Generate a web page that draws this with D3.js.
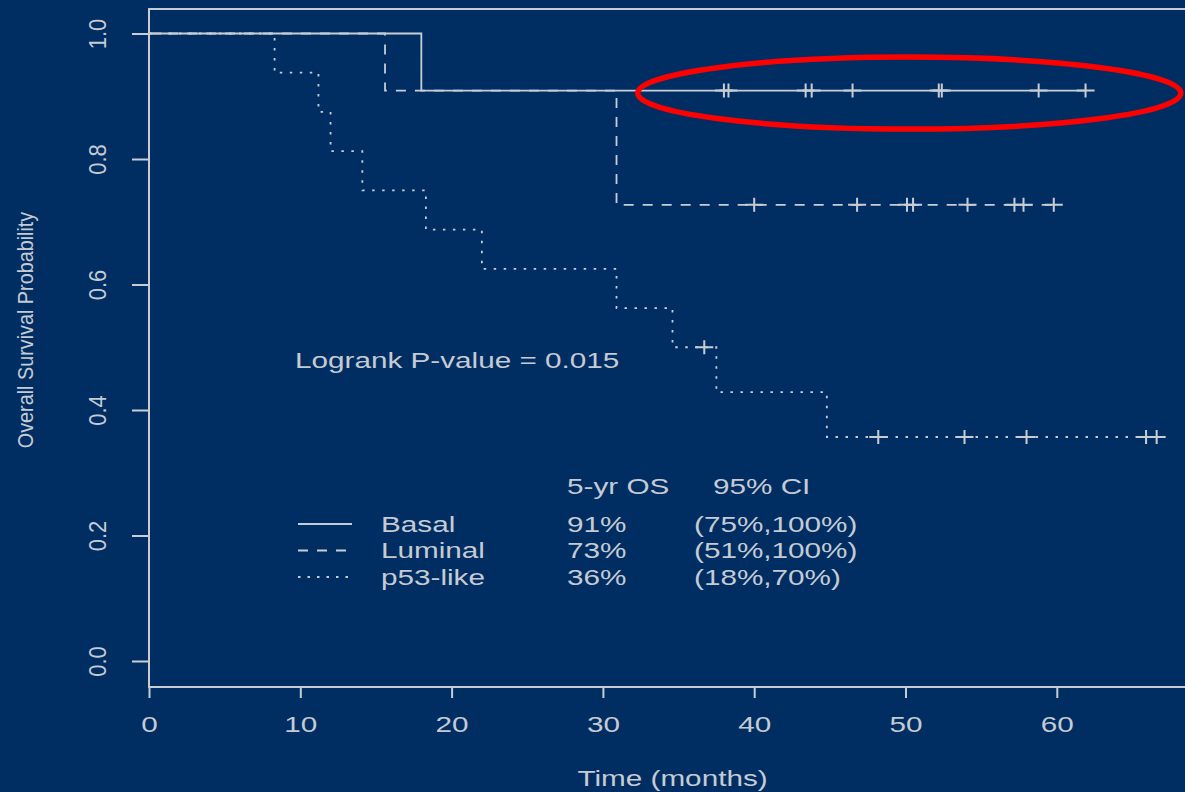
<!DOCTYPE html>
<html>
<head>
<meta charset="utf-8">
<script src="https://cdn.jsdelivr.net/npm/d3@7"></script>
<style>
  html, body { margin: 0; padding: 0; background: #002e63; }
  svg { display: block; }
  text { font-family: "Liberation Sans", Arial, Helvetica, sans-serif; fill: #c6cbd3; }
</style>
</head>
<body>
<svg id="chart" width="1185" height="792"></svg>
<script>
// Kaplan–Meier step curves: [time (months), survival after that time]
const basalSteps   = [[0, 1], [18.0, 0.909]];
const luminalSteps = [[0, 1], [15.6, 0.909], [30.9, 0.727]];
const p53Steps     = [[0, 1], [8.3, 0.9375], [11.2, 0.875], [12.0, 0.8125], [14.1, 0.75],
                      [18.3, 0.6875], [22.0, 0.625], [30.9, 0.5625], [34.6, 0.5],
                      [37.5, 0.4286], [44.8, 0.357]];

// Censored observations (months)
const basalCensored   = [38.0, 38.3, 43.4, 43.8, 46.5, 52.2, 52.4, 58.8, 61.9];
const luminalCensored = [40.0, 46.8, 50.1, 50.5, 54.1, 57.2, 57.8, 59.8];
const p53Censored     = [36.7, 48.2, 53.9, 58.0, 65.9, 66.6];

// Last follow-up time for each group
const followUpEnd = [61.9, 59.8, 66.6];

// Axis ticks
const xTicks = [0, 10, 20, 30, 40, 50, 60];
const yTicks = [0, 0.2, 0.4, 0.6, 0.8, 1.0];

// Legend table
const groupNames = ["Basal", "Luminal", "p53-like"];
const fiveYearOS = ["91%", "73%", "36%"];
const ci95       = ["(75%,100%)", "(51%,100%)", "(18%,70%)"];
const pValueText = "Logrank P-value = 0.015";

// Highlighted region: time span and survival level around the Basal censoring marks
const highlightTime = [32.3, 68.2];
const highlightSurv = 0.905;

const ink = "#c8cdd5";
const SX = 1.35;   // horizontal glyph stretch for horizontal text
const RY = 1.12;   // glyph stretch for rotated text

const svg = d3.select("#chart");
svg.append("rect").attr("width", 1185).attr("height", 792).attr("fill", "#002e63");

const x = d3.scaleLinear().domain([0, 60]).range([149, 149 + 60 * 15.13]);
const y = d3.scaleLinear().domain([0, 1]).range([661, 33.5]);

const plotTop = 9, plotBottom = 687, plotLeft = 149;

// Plot frame
svg.append("rect")
  .attr("x", plotLeft).attr("y", plotTop)
  .attr("width", 1100).attr("height", plotBottom - plotTop)
  .attr("fill", "none").attr("stroke", ink).attr("stroke-width", 2);

// X axis
const gx = svg.append("g").attr("transform", `translate(0,${plotBottom})`)
  .call(d3.axisBottom(x).tickValues(xTicks).tickSize(11).tickFormat(d3.format("d")));
gx.select(".domain").remove();
gx.selectAll(".tick line").attr("stroke", ink).attr("stroke-width", 2);
gx.selectAll(".tick text")
  .attr("y", 45).attr("dy", null)
  .attr("transform", `scale(${SX},1)`)
  .style("font-size", "22px").attr("fill", "#c6cbd3");

// Y axis
const gy = svg.append("g").attr("transform", `translate(${plotLeft},0)`)
  .call(d3.axisLeft(y).tickValues(yTicks).tickSize(17).tickFormat(d3.format(".1f")));
gy.select(".domain").remove();
gy.selectAll(".tick line").attr("stroke", ink).attr("stroke-width", 2);
gy.selectAll(".tick text")
  .attr("x", null).attr("y", null).attr("dy", null)
  .attr("text-anchor", "middle")
  .attr("transform", `translate(-43,0) rotate(-90) scale(1,${RY})`)
  .style("font-size", "22px").attr("fill", "#c6cbd3");

// Axis titles
svg.append("text")
  .attr("transform", `translate(672.5,786) scale(${SX},1)`)
  .attr("text-anchor", "middle").style("font-size", "22px")
  .text("Time (months)");

svg.append("text")
  .attr("transform", `translate(33,330) rotate(-90) scale(1,${RY})`)
  .attr("text-anchor", "middle").style("font-size", "19.8px")
  .text("Overall Survival Probability");

// Survival curves
function survivalAt(steps, t) {
  let s = steps[0][1];
  for (const [ti, si] of steps) if (ti <= t) s = si;
  return s;
}

const groups = [
  { steps: basalSteps,   censored: basalCensored,   end: followUpEnd[0], dash: null },
  { steps: luminalSteps, censored: luminalCensored, end: followUpEnd[1], dash: "10,9" },
  { steps: p53Steps,     censored: p53Censored,     end: followUpEnd[2], dash: "2.5,7.5" }
];

const line = d3.line()
  .x(d => x(d[0])).y(d => y(d[1]))
  .curve(d3.curveStepAfter);

groups.forEach(g => {
  const pts = g.steps.concat([[g.end, g.steps[g.steps.length - 1][1]]]);
  svg.append("path")
    .attr("d", line(pts))
    .attr("fill", "none")
    .attr("stroke", ink)
    .attr("stroke-width", 1.8)
    .attr("stroke-dasharray", g.dash);

  svg.append("g").selectAll("path")
    .data(g.censored)
    .join("path")
    .attr("d", t => {
      const cx = x(t), cy = y(survivalAt(g.steps, t));
      return `M${cx - 9},${cy}H${cx + 9}M${cx},${cy - 7}V${cy + 7}`;
    })
    .attr("fill", "none").attr("stroke", ink).attr("stroke-width", 2);
});

// Log-rank test annotation
svg.append("text")
  .attr("transform", `translate(295,368) scale(${SX},1)`)
  .style("font-size", "22px")
  .text(pValueText);

// Legend table
const legendRowY = [531.5, 558, 584.5];
const legendDash = [null, "10,9", "2.5,7"];

svg.append("text")
  .attr("transform", `translate(567,494) scale(${SX},1)`)
  .style("font-size", "22px").text("5-yr OS");
svg.append("text")
  .attr("transform", `translate(713,494) scale(${SX},1)`)
  .style("font-size", "22px").text("95% CI");

groupNames.forEach((name, i) => {
  const by = legendRowY[i];
  svg.append("line")
    .attr("x1", 298).attr("x2", 352)
    .attr("y1", by - 7.5).attr("y2", by - 7.5)
    .attr("stroke", ink).attr("stroke-width", 1.8)
    .attr("stroke-dasharray", legendDash[i]);
  svg.append("text")
    .attr("transform", `translate(381,${by}) scale(${SX},1)`)
    .style("font-size", "22px").text(name);
  svg.append("text")
    .attr("transform", `translate(567,${by}) scale(${SX},1)`)
    .style("font-size", "22px").text(fiveYearOS[i]);
  svg.append("text")
    .attr("transform", `translate(694,${by}) scale(${SX},1)`)
    .style("font-size", "22px").text(ci95[i]);
});

// Red highlight ellipse around the Basal plateau
const ex0 = x(highlightTime[0]), ex1 = x(highlightTime[1]);
svg.append("ellipse")
  .attr("cx", (ex0 + ex1) / 2)
  .attr("cy", y(highlightSurv))
  .attr("rx", (ex1 - ex0) / 2)
  .attr("ry", 36)
  .attr("fill", "none")
  .attr("stroke", "#ff0000")
  .attr("stroke-width", 5.5);
</script>
</body>
</html>
